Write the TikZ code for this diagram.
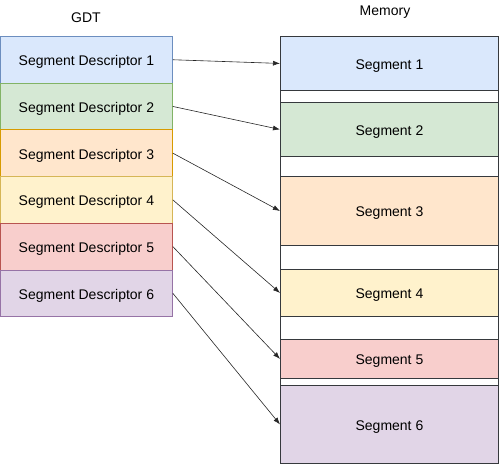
\documentclass[tikz,border=0pt]{standalone}
\usepackage{fontspec}
\setmainfont{Liberation Sans}
\usetikzlibrary{arrows.meta}
\definecolor{bfill}{HTML}{DAE8FC}\definecolor{bline}{HTML}{6C8EBF}
\definecolor{gfill}{HTML}{D5E8D4}\definecolor{gline}{HTML}{82B366}
\definecolor{ofill}{HTML}{FFE6CC}\definecolor{oline}{HTML}{D79B00}
\definecolor{yfill}{HTML}{FFF2CC}\definecolor{yline}{HTML}{D6B656}
\definecolor{rfill}{HTML}{F8CECC}\definecolor{rline}{HTML}{B85450}
\definecolor{pfill}{HTML}{E1D5E7}\definecolor{pline}{HTML}{9673A6}
\definecolor{memline}{HTML}{36393D}
\tikzset{
  desc/.style={draw, line width=0.8pt, minimum width=172pt, minimum height=46.7pt, inner sep=0pt, font=\fontsize{14}{16}\selectfont, text height=12pt, text depth=0pt, anchor=north west},
  seg/.style={draw=memline, line width=0.9pt, minimum width=218pt, inner sep=0pt, font=\fontsize{14}{16}\selectfont, text height=12pt, text depth=0pt, anchor=north west},
  conn/.style={-{Latex[length=7pt,width=5pt]}, line width=0.6pt, black!85},
  title/.style={font=\fontsize{14}{16}\selectfont}
}
\begin{document}
\begin{tikzpicture}[x=1pt,y=-1pt]
\useasboundingbox (0,0) rectangle (500,470);
\node[title] (gdt) at (86,18) {GDT};
\node[title] (mem) at (385,12) {Memory};
\node[desc, fill=bfill, draw=bline] (d1) at (0,36) {Segment Descriptor 1};
\node[desc, fill=gfill, draw=gline] (d2) at (0,82.7) {Segment Descriptor 2};
\node[desc, fill=ofill, draw=oline] (d3) at (0,129.4) {Segment Descriptor 3};
\node[desc, fill=yfill, draw=yline] (d4) at (0,176.1) {Segment Descriptor 4};
\node[desc, fill=rfill, draw=rline] (d5) at (0,222.8) {Segment Descriptor 5};
\node[desc, fill=pfill, draw=pline] (d6) at (0,269.5) {Segment Descriptor 6};
\node[draw=memline, line width=0.9pt, fill=white, minimum width=218pt, minimum height=427pt, inner sep=0pt, anchor=north west] (memory) at (280,36) {};
\node[seg, fill=bfill, minimum height=54pt] (s1) at (280,36) {Segment 1};
\node[seg, fill=gfill, minimum height=54pt] (s2) at (280,102) {Segment 2};
\node[seg, fill=ofill, minimum height=69pt] (s3) at (280,176) {Segment 3};
\node[seg, fill=yfill, minimum height=47pt] (s4) at (280,269) {Segment 4};
\node[seg, fill=rfill, minimum height=39pt] (s5) at (280,339) {Segment 5};
\node[seg, fill=pfill, minimum height=78pt] (s6) at (280,385) {Segment 6};
\foreach \i in {1,...,6}{\draw[conn] (d\i.east) -- (s\i.west);}
\end{tikzpicture}
\end{document}
